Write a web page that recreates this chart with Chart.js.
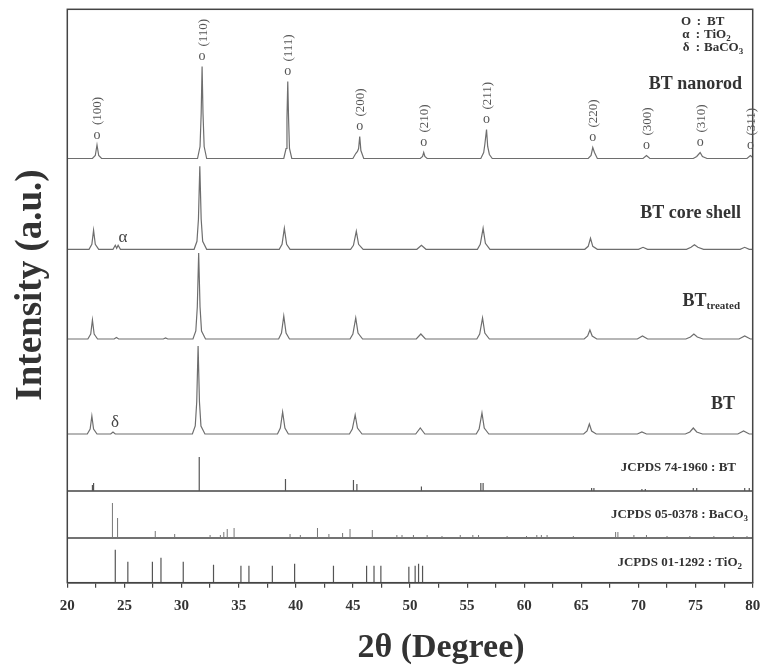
<!DOCTYPE html>
<html>
<head>
<meta charset="utf-8">
<script src="https://cdn.jsdelivr.net/npm/chart.js@4.4.0/dist/chart.umd.min.js"></script>
<style>
  html, body { margin: 0; padding: 0; background: #fff; }
</style>
</head>
<body>
<canvas id="graficoXRD" width="763" height="670"></canvas>
<script>
// eixo 2theta
const xMin = 20;
const xMax = 80;
const xTicks = [20, 25, 30, 35, 40, 45, 50, 55, 60, 65, 70, 75, 80];

// deslocamento vertical de cada curva (a.u.)
const offNanorod = 424.2;
const offCoreShell = 333.4;
const offTreated = 243.7;
const offBT = 148.7;
const offRefBT = 91.7;
const offRefBaCO3 = 44.7;
const offRefTiO2 = 0;
const yTop = 573.4;

// curvas medidas [2theta, intensidade]
const nanorod = [
  [20, 0], [22.2, 0], [22.45, 3], [22.6, 13.5], [22.75, 3], [23.0, 0],
  [31.4, 0], [31.62, 12], [31.72, 45], [31.8, 92], [31.88, 45], [31.98, 12], [32.2, 0],
  [38.95, 0], [39.15, 10], [39.23, 40], [39.3, 77], [39.37, 40], [39.45, 10], [39.65, 0],
  [45.0, 0], [45.25, 5], [45.4, 7], [45.5, 10], [45.6, 22], [45.7, 8], [45.95, 0],
  [50.9, 0], [51.1, 2], [51.2, 6], [51.3, 2], [51.5, 0],
  [56.2, 0], [56.45, 6], [56.55, 14], [56.7, 29], [56.8, 12], [56.95, 4], [57.2, 0],
  [65.6, 0], [65.85, 3], [66.0, 11], [66.15, 6], [66.4, 0],
  [70.4, 0], [70.7, 3], [71.0, 0],
  [74.8, 0], [75.1, 2], [75.4, 6], [75.6, 2], [76.0, 0],
  [79.5, 0], [79.8, 3], [80, 1]
];

const coreShell = [
  [20, 0], [21.9, 0], [22.15, 5], [22.3, 19], [22.45, 5], [22.75, 0],
  [24.0, 0], [24.2, 4], [24.32, 1], [24.45, 4], [24.65, 0],
  [31.1, 0], [31.35, 8], [31.48, 30], [31.6, 83], [31.72, 30], [31.85, 8], [32.2, 0],
  [38.55, 0], [38.8, 5], [39.0, 21], [39.2, 5], [39.5, 0],
  [44.8, 0], [45.05, 4], [45.3, 18], [45.5, 5], [45.9, 0],
  [50.6, 0], [51.0, 4], [51.4, 0],
  [55.9, 0], [56.15, 5], [56.4, 21], [56.6, 6], [57.0, 0],
  [65.3, 0], [65.6, 3], [65.8, 11], [66.0, 3], [66.4, 0],
  [70.0, 0], [70.4, 2], [70.8, 0],
  [74.2, 0], [74.6, 2], [74.9, 4.5], [75.2, 2], [75.7, 0],
  [78.9, 0], [79.3, 2], [79.7, 0], [80, 0]
];

const treated = [
  [20, 0], [21.8, 0], [22.05, 5], [22.2, 19], [22.35, 5], [22.65, 0],
  [24.1, 0], [24.3, 1.5], [24.5, 0],
  [28.4, 0], [28.6, 1], [28.8, 0],
  [31.0, 0], [31.25, 8], [31.38, 32], [31.5, 86], [31.62, 32], [31.75, 8], [32.1, 0],
  [38.5, 0], [38.75, 6], [38.95, 23], [39.15, 6], [39.45, 0],
  [44.75, 0], [45.0, 5], [45.25, 21], [45.45, 6], [45.85, 0],
  [50.55, 0], [50.95, 5], [51.35, 0],
  [55.85, 0], [56.1, 5], [56.35, 21], [56.55, 6], [56.95, 0],
  [65.25, 0], [65.55, 3], [65.75, 9], [65.95, 3], [66.35, 0],
  [69.9, 0], [70.35, 3], [70.8, 0],
  [74.15, 0], [74.55, 2], [74.85, 5], [75.15, 2], [75.65, 0],
  [78.8, 0], [79.3, 3], [79.8, 0], [80, 0]
];

const btPuro = [
  [20, 0], [21.75, 0], [22.0, 5], [22.15, 18], [22.3, 5], [22.6, 0],
  [23.8, 0], [24.0, 2], [24.2, 0],
  [30.95, 0], [31.2, 8], [31.33, 32], [31.45, 88], [31.57, 32], [31.7, 8], [32.05, 0],
  [38.4, 0], [38.65, 6], [38.85, 22], [39.05, 6], [39.35, 0],
  [44.7, 0], [44.95, 5], [45.2, 19], [45.4, 6], [45.8, 0],
  [50.5, 0], [50.9, 6], [51.3, 0],
  [55.8, 0], [56.05, 5], [56.3, 21], [56.5, 6], [56.9, 0],
  [65.2, 0], [65.5, 3], [65.7, 10], [65.9, 3], [66.3, 0],
  [69.9, 0], [70.3, 2], [70.7, 0],
  [74.1, 0], [74.5, 2], [74.8, 6], [75.1, 2], [75.6, 0],
  [78.7, 0], [79.2, 3], [79.7, 0], [80, 0]
];

// fichas JCPDS (posicao, altura)
const refBTPos = [22.2, 22.3, 31.55, 39.1, 45.05, 45.35, 51.0, 56.2, 56.4, 65.9, 66.1, 70.3, 70.6, 74.8, 75.1, 79.3, 79.7];
const refBTInt = [6, 8, 34, 12, 11, 7, 4.5, 8, 8, 3, 3, 2, 2, 3, 3, 3, 3];

const refBaCO3Pos = [23.95, 24.4, 27.7, 29.4, 32.5, 33.4, 33.7, 34.0, 34.6, 39.5, 40.4, 41.9, 42.9, 44.1, 44.75, 46.7,
  48.85, 49.3, 50.3, 51.5, 52.8, 54.4, 55.5, 56.0, 58.5, 60.2, 61.1, 61.5, 62.0, 64.3, 68.0, 68.2, 69.6, 70.7,
  72.5, 74.5, 76.6, 78.3, 79.5];
const refBaCO3Int = [35, 20, 7, 4, 3, 3, 6, 9, 10, 4, 3, 10, 4, 5, 9, 8,
  3, 3, 3, 3, 2, 3, 3, 3, 2, 2, 3, 3, 3, 2, 6, 6, 3, 3,
  2, 2, 2, 2, 2];

const refTiO2Pos = [24.2, 25.3, 27.45, 28.2, 30.15, 32.8, 35.2, 35.9, 37.95, 39.9, 43.3, 46.2, 46.85, 47.45, 49.9, 50.45, 50.75, 51.1];
const refTiO2Int = [33, 21, 21, 25, 21, 18, 17, 17, 17, 19, 17, 17, 17, 17, 16, 17, 19, 17];

// indices (hkl) da fase BT
const hklLabels = ["(100)", "(110)", "(111)", "(200)", "(210)", "(211)", "(220)", "(300)", "(310)", "(311)"];
const hklPos = [22.6, 31.8, 39.3, 45.6, 51.2, 56.7, 66.0, 70.7, 75.4, 79.8];
const hklTop = [13.5, 92, 77, 22, 6, 29, 11, 3, 6, 3];

const serif = "'Liberation Serif', 'Times New Roman', serif";

function comOffset(pontos, base) {
  return pontos.map((p) => ({ x: p[0], y: p[1] + base }));
}

// cada haste vira um segmento vertical, separado por null
function hastes(pos, alt, base) {
  const out = [];
  pos.forEach((x, i) => {
    out.push({ x: x, y: base }, { x: x, y: base + alt[i] }, { x: x, y: null });
  });
  return out;
}

function curva(dados, cor, largura) {
  return {
    data: dados,
    showLine: true,
    spanGaps: false,
    borderColor: cor,
    borderWidth: largura,
    pointRadius: 0,
    tension: 0
  };
}

// texto com partes (subscrito etc), alinhado pela direita ou esquerda
function textoRico(ctx, x, y, partes, alinhar) {
  let total = 0;
  partes.forEach((p) => {
    ctx.font = p.font;
    total += ctx.measureText(p.t).width;
  });
  let cx = alinhar === "right" ? x - total : x;
  ctx.textAlign = "left";
  partes.forEach((p) => {
    ctx.font = p.font;
    ctx.fillText(p.t, cx, y + (p.dy || 0));
    cx += ctx.measureText(p.t).width;
  });
}

const anotacoes = {
  id: "anotacoes",
  afterDraw(chart) {
    const ctx = chart.ctx;
    const xs = chart.scales.x;
    const ys = chart.scales.y;
    const area = chart.chartArea;
    ctx.save();

    // moldura
    ctx.strokeStyle = "#444";
    ctx.lineWidth = 1.5;
    ctx.strokeRect(area.left, area.top, area.right - area.left, area.bottom - area.top);

    // marcadores e (hkl)
    ctx.fillStyle = "#555";
    ctx.textBaseline = "middle";
    hklLabels.forEach((lab, i) => {
      const px = xs.getPixelForValue(hklPos[i]);
      const topo = ys.getPixelForValue(hklTop[i] + offNanorod);
      const oy = topo - 9;
      ctx.font = "14px " + serif;
      ctx.textAlign = "center";
      ctx.fillText("o", px, oy - 1);
      ctx.font = "13px " + serif;
      const w = ctx.measureText(lab).width;
      ctx.save();
      ctx.translate(px + 1, oy - 11 - w / 2);
      ctx.rotate(-Math.PI / 2);
      ctx.fillText(lab, 0, 0);
      ctx.restore();
    });

    // legenda das fases
    ctx.fillStyle = "#333";
    ctx.textBaseline = "middle";
    const b13 = "bold 13px " + serif;
    const b9 = "bold 9px " + serif;
    ctx.font = b13;
    ctx.textAlign = "center";
    ctx.fillText("O", 686, 22);
    ctx.fillText("α", 686, 35);
    ctx.fillText("δ", 686, 48);
    ctx.fillText(":", 699, 22);
    ctx.fillText(":", 698, 35);
    ctx.fillText(":", 698, 48);
    textoRico(ctx, 707, 22, [{ t: "BT", font: b13 }], "left");
    textoRico(ctx, 704, 35, [{ t: "TiO", font: b13 }, { t: "2", font: b9, dy: 4 }], "left");
    textoRico(ctx, 704, 48, [{ t: "BaCO", font: b13 }, { t: "3", font: b9, dy: 4 }], "left");

    // nomes das amostras
    const b18 = "bold 18px " + serif;
    textoRico(ctx, 742, 84, [{ t: "BT nanorod", font: b18 }], "right");
    textoRico(ctx, 741, 213, [{ t: "BT core shell", font: b18 }], "right");
    textoRico(ctx, 740, 301, [{ t: "BT", font: b18 }, { t: "treated", font: "bold 11px " + serif, dy: 5 }], "right");
    textoRico(ctx, 735, 404, [{ t: "BT", font: b18 }], "right");

    // fichas
    textoRico(ctx, 736, 468, [{ t: "JCPDS 74-1960 : BT", font: b13 }], "right");
    textoRico(ctx, 748, 515, [{ t: "JCPDS 05-0378 : BaCO", font: b13 }, { t: "3", font: b9, dy: 4 }], "right");
    textoRico(ctx, 742, 563, [{ t: "JCPDS 01-1292 : TiO", font: b13 }, { t: "2", font: b9, dy: 4 }], "right");

    // alfa e delta nas curvas
    ctx.fillStyle = "#444";
    ctx.font = "17px " + serif;
    ctx.textAlign = "center";
    ctx.fillText("α", 123, 238);
    ctx.fillText("δ", 115, 423);

    // titulos dos eixos
    ctx.fillStyle = "#333";
    ctx.font = "bold 34px " + serif;
    ctx.textBaseline = "alphabetic";
    ctx.textAlign = "center";
    ctx.fillText("2θ (Degree)", 441, 657);
    ctx.save();
    ctx.font = "bold 37px " + serif;
    ctx.translate(41, 285);
    ctx.rotate(-Math.PI / 2);
    ctx.fillText("Intensity (a.u.)", 0, 0);
    ctx.restore();

    ctx.restore();
  }
};

const corCurva = "#6e6e6e";
const corHaste = "#555";

new Chart(document.getElementById("graficoXRD"), {
  type: "scatter",
  data: {
    datasets: [
      curva(comOffset(nanorod, offNanorod), corCurva, 1.2),
      curva(comOffset(coreShell, offCoreShell), corCurva, 1.2),
      curva(comOffset(treated, offTreated), corCurva, 1.2),
      curva(comOffset(btPuro, offBT), corCurva, 1.2),
      curva(hastes(refBTPos, refBTInt, offRefBT), corHaste, 1.2),
      curva(hastes(refBaCO3Pos, refBaCO3Int, offRefBaCO3), "#777", 1),
      curva(hastes(refTiO2Pos, refTiO2Int, offRefTiO2), corHaste, 1.2),
      curva([{ x: xMin, y: offRefBT }, { x: xMax, y: offRefBT }], "#444", 1.5),
      curva([{ x: xMin, y: offRefBaCO3 }, { x: xMax, y: offRefBaCO3 }], "#444", 1.5)
    ]
  },
  options: {
    responsive: false,
    animation: false,
    layout: { padding: { left: 67.3, right: 10.3, top: 9.3, bottom: 0 } },
    plugins: {
      legend: { display: false },
      tooltip: { enabled: false }
    },
    scales: {
      x: {
        type: "linear",
        min: xMin,
        max: xMax,
        afterFit: (s) => {
          s.height = 87.3;
          s.paddingLeft = 0;
          s.paddingRight = 0;
        },
        afterBuildTicks: (s) => {
          const t = [];
          for (let v = xMin; v <= xMax; v += 2.5) t.push({ value: v });
          s.ticks = t;
        },
        ticks: {
          autoSkip: false,
          maxRotation: 0,
          padding: 9,
          color: "#333",
          font: { family: serif, size: 15, weight: "bold" },
          callback: (v) => (xTicks.includes(v) ? String(v) : "")
        },
        grid: { drawOnChartArea: false, drawTicks: true, tickLength: 5, color: "#444", lineWidth: 1.2 },
        border: { display: true, color: "#444", width: 1.5 }
      },
      y: {
        display: false,
        min: 0,
        max: yTop
      }
    }
  },
  plugins: [anotacoes]
});
</script>
</body>
</html>
